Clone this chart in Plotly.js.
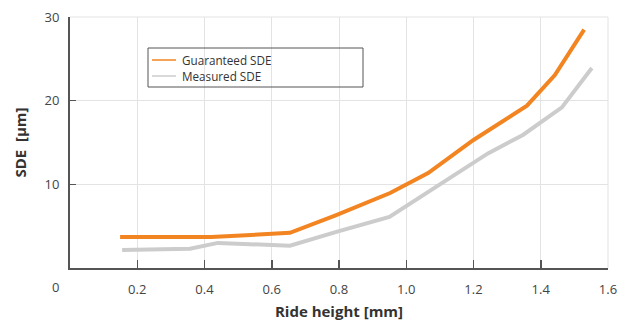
<!DOCTYPE html>
<html><head><meta charset="utf-8">
<script src="https://cdn.plot.ly/plotly-3.0.1.min.js"></script>
<style>html,body{margin:0;padding:0;background:#fff}#c{width:640px;height:324px}</style>
</head><body><div id="c"></div>
<script>
const guarX = [0.149, 0.42, 0.654, 0.79, 0.952, 1.065, 1.2, 1.359, 1.442, 1.529];
const guarY = [3.7, 3.7, 4.2, 6.3, 8.96, 11.35, 15.3, 19.4, 23.06, 28.5];
const measX = [0.155, 0.357, 0.44, 0.654, 0.8, 0.95, 1.243, 1.347, 1.463, 1.552];
const measY = [2.15, 2.3, 3.0, 2.66, 4.4, 6.1, 13.7, 15.9, 19.2, 23.9];
const xTicks = [0.2, 0.4, 0.6, 0.8, 1.0, 1.2, 1.4, 1.6];
const xTickText = ['0.2', '0.4', '0.6', '0.8', '1.0', '1.2', '1.4', '1.6'];
const yTicks = [10, 20, 30];
const seriesNames = ['Guaranteed SDE', 'Measured SDE'];
const seriesColors = ['#F28522', '#CCCCCC'];

// plot area in pixels (for legend placement in paper coords)
const PL = 70, PR = 608, PT = 17, PB = 268;
const px = v => (v - PL) / (PR - PL);
const py = v => (PB - v) / (PB - PT);

const traces = [
  {x: measX, y: measY, mode: 'lines', line: {color: seriesColors[1], width: 4}, showlegend: false, hoverinfo: 'skip'},
  {x: guarX, y: guarY, mode: 'lines', line: {color: seriesColors[0], width: 4}, showlegend: false, hoverinfo: 'skip'}
];

const legendRows = [60, 76];
const shapes = [
  {type: 'rect', xref: 'paper', yref: 'paper', x0: px(148), x1: px(363), y0: py(87), y1: py(48),
   line: {color: '#555', width: 1}, fillcolor: 'rgba(0,0,0,0)'},
  {type: 'line', xref: 'paper', yref: 'paper', x0: 0, x1: 1, y0: 1, y1: 1, line: {color: '#E3E3E3', width: 1}},
  {type: 'line', xref: 'paper', yref: 'paper', x0: 1, x1: 1, y0: 0, y1: 1, line: {color: '#E3E3E3', width: 1}}
];
const annotations = [
  {text: '0', xref: 'paper', yref: 'paper', x: px(55), y: 0, yshift: -19, showarrow: false,
   xanchor: 'center', yanchor: 'middle', font: {size: 13, color: '#444'}}
];
seriesNames.forEach((n, i) => {
  shapes.push({type: 'line', xref: 'paper', yref: 'paper', x0: px(152), x1: px(176), y0: py(legendRows[i]), y1: py(legendRows[i]),
               line: {color: seriesColors[i], width: 1.5}});
  annotations.push({text: n, xref: 'paper', yref: 'paper', x: px(181), y: py(legendRows[i]), showarrow: false,
                    xanchor: 'left', yanchor: 'middle', borderpad: 0, font: {size: 11.7, color: '#333'}});
});

const layout = {
  width: 640, height: 324,
  margin: {l: 70, r: 32, t: 17, b: 56},
  paper_bgcolor: '#fff', plot_bgcolor: '#fff',
  font: {family: 'Open Sans, Noto Sans, sans-serif', color: '#444', size: 13},
  showlegend: false,
  xaxis: {range: [0, 1.6], tickmode: 'array', tickvals: xTicks, ticktext: xTickText,
          ticks: 'inside', ticklen: 8, tickwidth: 1.5, tickcolor: '#555', ticklabelstandoff: 8,
          tickfont: {size: 13, color: '#444'},
          showline: true, linecolor: '#555', linewidth: 2, showgrid: true, gridcolor: '#E3E3E3', gridwidth: 1,
          zeroline: false, fixedrange: true,
          title: {text: 'Ride height [mm]', font: {size: 15, color: '#333', weight: 'bold'}, standoff: 10}},
  yaxis: {range: [0, 30], tickmode: 'array', tickvals: yTicks,
          ticks: 'inside', ticklen: 6, tickwidth: 1.5, tickcolor: '#555', ticklabelstandoff: 6,
          tickfont: {size: 13, color: '#444'},
          showline: true, linecolor: '#555', linewidth: 2, showgrid: true, gridcolor: '#E3E3E3', gridwidth: 1,
          zeroline: false, fixedrange: true,
          title: {text: 'SDE  [µm]', font: {size: 15, color: '#333', weight: 'bold'}, standoff: 14}},
  shapes: shapes,
  annotations: annotations
};
Plotly.newPlot('c', traces, layout, {displayModeBar: false, staticPlot: true});
</script></body></html>
